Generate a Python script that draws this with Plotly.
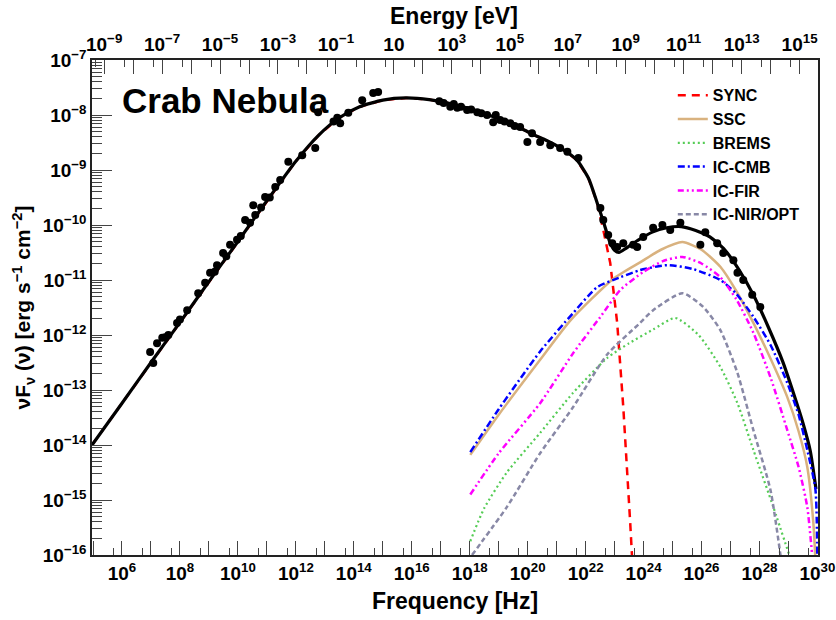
import numpy as np
import plotly.graph_objects as go

# ---------------- data (log10 values) ----------------
# total model (black)
tot_lognu = [4.965, 6.0, 7.0, 8.0, 9.0, 10.0, 11.0, 12.0, 12.8, 13.5, 14.2, 15.0, 15.8, 16.6, 17.4,
             18.2, 19.0, 19.8, 20.2, 20.6, 21.2, 21.7, 22.1, 22.4, 22.65, 22.85, 23.0, 23.15, 23.4,
             23.8, 24.3, 24.8, 25.3, 25.8, 26.3, 26.8, 27.3, 27.8, 28.3, 28.8, 29.2, 29.5, 29.75, 29.95]
tot_logf = [-14.0, -13.24, -12.5, -11.77, -11.03, -10.3, -9.56, -8.84, -8.36, -8.05, -7.85, -7.73,
            -7.69, -7.72, -7.8, -7.92, -8.07, -8.25, -8.36, -8.45, -8.62, -8.82, -9.15, -9.6, -10.0,
            -10.33, -10.46, -10.5, -10.42, -10.28, -10.13, -10.05, -10.03, -10.1, -10.22, -10.45,
            -10.82, -11.28, -11.85, -12.48, -13.1, -13.6, -14.1, -14.8]

# synchrotron
sync_lognu = [4.965, 6.0, 7.0, 8.0, 9.0, 10.0, 11.0, 12.0, 12.8, 13.5, 14.2, 15.0, 15.8, 16.6, 17.4,
              18.2, 19.0, 19.8, 20.2, 20.6, 21.2, 21.7, 22.1, 22.4, 22.61, 22.85, 23.09, 23.3, 23.54, 23.63]
sync_logf = [-14.0, -13.24, -12.5, -11.77, -11.03, -10.3, -9.56, -8.84, -8.36, -8.05, -7.85, -7.73,
             -7.69, -7.72, -7.8, -7.92, -8.07, -8.25, -8.36, -8.45, -8.62, -8.82, -9.15, -9.6,
             -10.09, -10.69, -11.78, -13.31, -15.42, -16.3]

# SSC
ssc_lognu = [18.02, 19.0, 20.43, 21.5, 22.95, 23.88, 24.6, 25.34, 26.0, 26.65, 27.2, 27.79, 28.4,
             28.96, 29.35, 29.65, 29.86, 29.95]
ssc_logf = [-14.18, -13.45, -12.45, -11.72, -10.98, -10.68, -10.45, -10.31, -10.45, -10.76, -11.2,
            -11.78, -12.45, -13.13, -13.75, -14.4, -15.42, -16.3]

# bremsstrahlung
brems_lognu = [18.02, 18.5, 19.28, 20.43, 21.57, 22.74, 23.5, 24.33, 25.09, 25.9, 26.65, 27.24,
               27.79, 28.48, 29.06]
brems_logf = [-15.75, -15.15, -14.5, -13.78, -13.05, -12.42, -12.15, -11.9, -11.69, -12.0, -12.58,
              -13.24, -14.09, -15.13, -16.05]

# IC on CMB
cmb_lognu = [18.02, 19.0, 20.43, 21.57, 22.4, 23.2, 23.88, 24.82, 25.7, 26.65, 27.2, 27.79, 28.4,
             28.96, 29.35, 29.65, 29.93, 30.0]
cmb_logf = [-14.13, -13.35, -12.3, -11.6, -11.13, -10.95, -10.82, -10.73, -10.8, -11.0, -11.25,
            -11.67, -12.2, -12.87, -13.45, -14.09, -14.8, -16.3]

# IC on FIR
fir_lognu = [18.02, 19.0, 20.43, 21.57, 22.51, 23.2, 24.0, 24.7, 25.34, 26.0, 26.65, 27.2, 27.79,
             28.4, 28.96, 29.35, 29.65, 29.85]
fir_logf = [-14.9, -14.15, -13.24, -12.33, -11.67, -11.18, -10.85, -10.65, -10.58, -10.7, -10.95,
            -11.35, -11.96, -12.8, -13.73, -14.4, -15.13, -16.2]

# IC on NIR/OPT
nir_lognu = [18.08, 19.28, 20.43, 21.57, 22.75, 23.88, 24.33, 25.34, 26.06, 26.65, 27.24, 27.79,
             28.38, 28.75]
nir_logf = [-16.0, -15.13, -14.15, -13.31, -12.35, -11.78, -11.55, -11.24, -11.49, -11.91, -12.69,
            -13.73, -14.82, -16.1]

# measured points (black dots)
pts_lognu = [6.97, 7.08, 7.21, 7.39, 7.49, 7.6, 7.9, 8.0, 8.25, 8.63, 8.87, 9.04, 9.2, 9.28, 9.49,
             9.6, 9.73, 9.97, 10.1, 10.25, 10.42, 10.53, 10.6, 10.8, 10.94, 11.1, 11.29, 11.46,
             11.74, 12.22, 12.67, 12.77,
             13.3, 13.43, 13.53, 13.81, 14.29, 14.67, 14.84,
             16.95, 17.1, 17.33, 17.45, 17.57, 17.7, 17.91, 18.05, 18.26, 18.4, 18.6, 18.81, 18.9,
             19.05, 19.2, 19.4, 19.55, 19.74, 19.99, 20.15, 20.43, 20.78, 21.12, 21.37, 21.75,
             22.51, 22.61, 22.78, 22.92, 23.09, 23.3, 23.64, 23.99,
             23.78, 24.33, 24.65, 24.92, 25.27, 25.96, 26.13, 26.54, 26.75, 27.1, 27.24, 27.44,
             27.75, 28.03]
pts_logf = [-12.31, -12.51, -12.15, -12.05, -12.04, -12.0, -11.78, -11.72, -11.55, -11.24, -11.05,
            -10.87, -10.85, -10.73, -10.51, -10.57, -10.36, -10.27, -10.2, -9.91, -9.96, -9.64,
            -9.82, -9.68, -9.49, -9.5, -9.31, -9.18, -8.85, -8.73, -8.6, -7.95,
            -8.12, -8.05, -8.15, -7.96, -7.73, -7.6, -7.58,
            -7.75, -7.78, -7.85, -7.8, -7.87, -7.85, -7.91, -7.9, -7.95, -7.97, -8.0, -8.13, -8.0,
            -8.09, -8.12, -8.15, -8.2, -8.22, -8.49, -8.33, -8.49, -8.55, -8.6, -8.67, -8.78,
            -9.69, -9.91, -10.18, -10.33, -10.4, -10.33, -10.36, -10.22,
            -10.4, -10.05, -10.0, -10.09, -9.96, -10.36, -10.13, -10.33, -10.51, -10.64, -10.87,
            -11.0, -11.27, -11.49]

# tick exponents
x_exps = list(range(5, 31))
y_exps = list(range(-16, -6))
e_exps = list(range(-10, 17))

H_EV = 4.1357e-15  # Planck constant [eV s]
X_RANGE = [4.965, 30.02]

# ---------------- figure ----------------
def p(a):
    return [10.0 ** v for v in a]

FONT = "Liberation Sans"
fig = go.Figure()

fig.add_trace(go.Scatter(x=p(sync_lognu), y=p(sync_logf), mode="lines", name="SYNC",
                         line=dict(color="#ff0000", width=2.5, dash="8px,6px"),
                         legendgroup="a", legendrank=1))
fig.add_trace(go.Scatter(x=p(tot_lognu), y=p(tot_logf), mode="lines", showlegend=False,
                         line=dict(color="black", width=3.2, shape="spline", smoothing=0.6)))
fig.add_trace(go.Scatter(x=p(ssc_lognu), y=p(ssc_logf), mode="lines", name="SSC",
                         line=dict(color="#d9b27f", width=2.5, shape="spline", smoothing=0.6),
                         legendgroup="b", legendrank=2))
fig.add_trace(go.Scatter(x=p(brems_lognu), y=p(brems_logf), mode="lines", name="BREMS",
                         line=dict(color="#55cc55", width=2.2, dash="2px,3px", shape="spline", smoothing=0.6),
                         legendgroup="c", legendrank=3))
fig.add_trace(go.Scatter(x=p(cmb_lognu), y=p(cmb_logf), mode="lines", name="IC-CMB",
                         line=dict(color="#0000ff", width=2.5, dash="7px,3px,2px,3px", shape="spline", smoothing=0.6),
                         legendgroup="d", legendrank=4))
fig.add_trace(go.Scatter(x=p(fir_lognu), y=p(fir_logf), mode="lines", name="IC-FIR",
                         line=dict(color="#ff00ff", width=2.5, dash="6px,3px,2px,3px,2px,3px", shape="spline", smoothing=0.6),
                         legendgroup="e", legendrank=5))
fig.add_trace(go.Scatter(x=p(nir_lognu), y=p(nir_logf), mode="lines", name="IC-NIR/OPT",
                         line=dict(color="#8888a6", width=2.5, dash="5px,3px", shape="spline", smoothing=0.6),
                         legendgroup="f", legendrank=6))
fig.add_trace(go.Scatter(x=p(pts_lognu), y=p(pts_logf), mode="markers", showlegend=False,
                         marker=dict(color="black", size=8)))
# invisible anchor so that the top (energy) axis is drawn
fig.add_trace(go.Scatter(x=[10.0 ** (X_RANGE[0] + np.log10(H_EV)), 10.0 ** (X_RANGE[1] + np.log10(H_EV))],
                         y=[1e-16, 1e-16], xaxis="x2", yaxis="y", mode="markers",
                         marker=dict(opacity=0), showlegend=False, hoverinfo="skip"))

def sup(k):
    return "10<sup>%s</sup>" % (str(k).replace("-", "\u2212"))

tickfont = dict(family=FONT, size=19, color="black", weight="bold")

fig.update_layout(
    width=836, height=620,
    margin=dict(l=92, r=18, t=60, b=65),
    paper_bgcolor="white", plot_bgcolor="white",
    font=dict(family=FONT, color="black"),
    xaxis=dict(type="log", range=X_RANGE, showgrid=False, zeroline=False,
               showline=True, linecolor="#222", linewidth=1.5, mirror=False,
               tickmode="array", tickvals=p(x_exps),
               ticktext=[sup(k) if k % 2 == 0 else "" for k in x_exps],
               ticks="inside", ticklen=14, tickwidth=1.3, tickcolor="#444",
               minor=dict(tickmode="array", tickvals=[5 * 10.0 ** k for k in x_exps],
                          ticks="inside", ticklen=7, tickwidth=1.3, tickcolor="#444"),
               tickfont=tickfont, automargin=False),
    xaxis2=dict(type="log", overlaying="x", side="top", anchor="y",
                range=[X_RANGE[0] + np.log10(H_EV), X_RANGE[1] + np.log10(H_EV)],
                showgrid=False, zeroline=False, showline=True, linecolor="#222", linewidth=1.5,
                tickmode="array", tickvals=p(e_exps),
                ticktext=[("10" if k == 1 else sup(k)) if k % 2 != 0 else "" for k in e_exps],
                ticks="inside", ticklen=14, tickwidth=1.3, tickcolor="#444",
                minor=dict(tickmode="array", tickvals=[5 * 10.0 ** k for k in e_exps],
                           ticks="inside", ticklen=7, tickwidth=1.3, tickcolor="#444"),
                tickfont=tickfont, automargin=False),
    yaxis=dict(type="log", range=[-16, -7], showgrid=False, zeroline=False,
               showline=True, linecolor="#222", linewidth=1.5, mirror=True,
               tickmode="array", tickvals=p(y_exps), ticktext=[sup(k) for k in y_exps],
               ticks="inside", ticklen=20, tickwidth=1.3, tickcolor="#444",
               minor=dict(tickmode="array",
                          tickvals=[m * 10.0 ** k for k in y_exps for m in range(2, 10)],
                          ticks="inside", ticklen=10, tickwidth=1.2, tickcolor="#444"),
               tickfont=tickfont, automargin=False),
    legend=dict(x=0.8, y=0.963, xanchor="left", yanchor="top", bgcolor="rgba(0,0,0,0)",
                font=dict(family=FONT, size=16, color="black", weight="bold"),
                traceorder="grouped", tracegroupgap=0, itemwidth=30),
    annotations=[
        dict(text="Crab Nebula", x=0.0386, y=0.919, xref="paper", yref="paper",
             xanchor="left", yanchor="middle", showarrow=False,
             font=dict(family=FONT, size=35, color="black", weight="bold")),
        dict(text="Frequency [Hz]", x=0.5, y=-0.093, xref="paper", yref="paper",
             xanchor="center", yanchor="middle", showarrow=False,
             font=dict(family=FONT, size=23, color="black", weight="bold")),
        dict(text="Energy [eV]", x=0.4986, y=1.089, xref="paper", yref="paper",
             xanchor="center", yanchor="middle", showarrow=False,
             font=dict(family=FONT, size=23, color="black", weight="bold")),
        dict(text="νF<sub>ν</sub> (ν) [erg s<sup>\u22121</sup> cm<sup>\u22122</sup>]", x=-0.095, y=0.5,
             xref="paper", yref="paper", xanchor="center", yanchor="middle", textangle=-90,
             showarrow=False, font=dict(family=FONT, size=21, color="black", weight="bold")),
    ],
)

fig.write_html("out.html")
